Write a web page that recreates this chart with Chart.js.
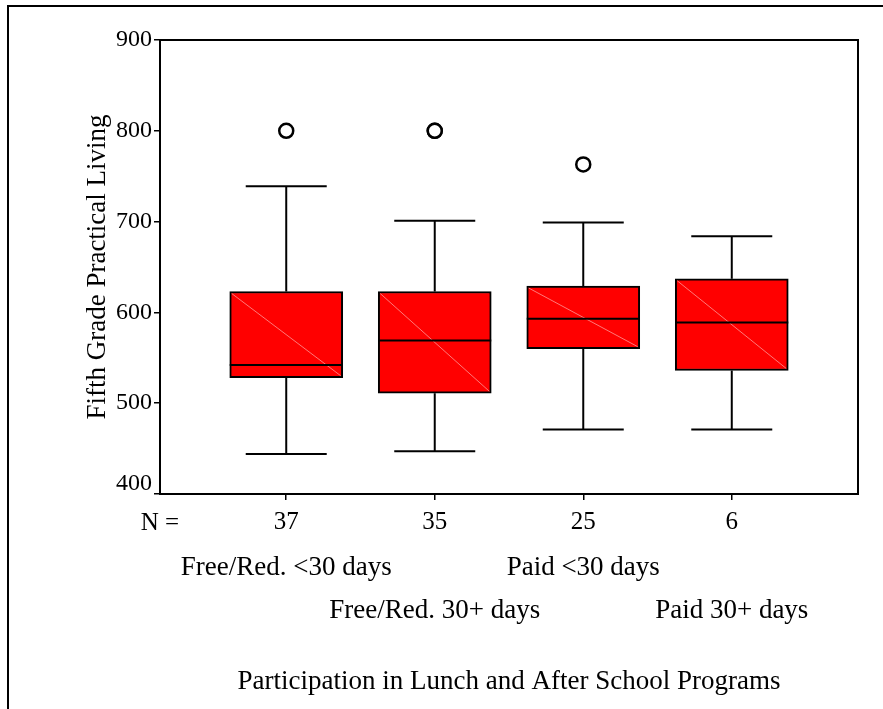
<!DOCTYPE html>
<html>
<head>
<meta charset="utf-8">
<script src="https://cdn.jsdelivr.net/npm/chart.js@4.4.0/dist/chart.umd.min.js"></script>
<style>
  html, body { margin: 0; padding: 0; background: #fff; }
  #wrap { position: relative; width: 883px; height: 709px; }
  #frame { position: absolute; left: 7px; top: 5px; right: 0; bottom: 0;
           border-top: 2px solid #000; border-left: 2px solid #000; pointer-events: none; }
</style>
</head>
<body>
<div id="wrap">
  <canvas id="myChart" width="883" height="709"></canvas>
  <div id="frame"></div>
</div>
<script>
// values
var groups = ['Free/Red. <30 days', 'Free/Red. 30+ days', 'Paid <30 days', 'Paid 30+ days'];
var nCounts = ['37', '35', '25', '6'];
var whiskerLow = [444, 447, 471, 471];
var q1 = [528, 511, 560, 536];
var medians = [542, 569, 593, 589];
var q3 = [623, 623, 629, 637];
var whiskerHigh = [739, 701, 699, 684];
var outliers = [[800], [800, 800], [763], []];
var yTicks = [400, 500, 600, 700, 800, 900];

var serif = "'Liberation Serif', 'Times New Roman', serif";
var boxWidth = 113, capWidth = 81;

var boxData = groups.map(function (g, i) {
    return { x: i + 1, y: [q1[i], q3[i]] };
});
var outlierData = [];
outliers.forEach(function (arr, i) {
    arr.forEach(function (v) { outlierData.push({ x: i + 1, y: v }); });
});

function line(ctx, x1, y1, x2, y2) {
    ctx.beginPath();
    ctx.moveTo(x1, y1);
    ctx.lineTo(x2, y2);
    ctx.stroke();
}

// whiskers behind the boxes, medians and labels on top
var boxPlotExtras = {
    id: 'boxPlotExtras',
    beforeDatasetsDraw: function (chart) {
        var ctx = chart.ctx, xs = chart.scales.x, ys = chart.scales.y;
        ctx.save();
        ctx.strokeStyle = '#000';
        ctx.lineWidth = 2;
        for (var i = 0; i < groups.length; i++) {
            var x = xs.getPixelForValue(i + 1);
            var lo = ys.getPixelForValue(whiskerLow[i]), hi = ys.getPixelForValue(whiskerHigh[i]);
            line(ctx, x, ys.getPixelForValue(q1[i]), x, lo);
            line(ctx, x, ys.getPixelForValue(q3[i]), x, hi);
            line(ctx, x - capWidth / 2, lo, x + capWidth / 2, lo);
            line(ctx, x - capWidth / 2, hi, x + capWidth / 2, hi);
        }
        ctx.restore();
    },
    afterDatasetsDraw: function (chart) {
        var ctx = chart.ctx, xs = chart.scales.x, ys = chart.scales.y;
        ctx.save();
        for (var i = 0; i < groups.length; i++) {
            var x = xs.getPixelForValue(i + 1);
            var top = ys.getPixelForValue(q3[i]), bot = ys.getPixelForValue(q1[i]);
            ctx.strokeStyle = 'rgba(255,150,150,0.8)';
            ctx.lineWidth = 1;
            line(ctx, x - boxWidth / 2 + 2, top + 2, x + boxWidth / 2 - 2, bot - 2);
            ctx.strokeStyle = '#000';
            ctx.lineWidth = 2;
            var m = ys.getPixelForValue(medians[i]);
            line(ctx, x - boxWidth / 2, m, x + boxWidth / 2, m);
        }
        ctx.restore();
    },
    afterDraw: function (chart) {
        var ctx = chart.ctx, xs = chart.scales.x, ys = chart.scales.y, a = chart.chartArea;
        ctx.save();
        ctx.strokeStyle = '#000';
        ctx.lineWidth = 2;
        ctx.strokeRect(a.left, a.top, a.right - a.left, a.bottom - a.top);
        ctx.fillStyle = '#000';
        // lowest y label sits a little above its tick, as in the original
        ctx.textAlign = 'right';
        ctx.textBaseline = 'middle';
        ctx.font = '24px ' + serif;
        ctx.fillText(String(yTicks[0]), a.left - 8, ys.getPixelForValue(yTicks[0]) - 10);
        ctx.textAlign = 'center';
        ctx.textBaseline = 'alphabetic';
        ctx.font = '25px ' + serif;
        ctx.fillText('N =', a.left, 530);
        ctx.font = '27px ' + serif;
        groups.forEach(function (g, i) {
            ctx.fillText(g, xs.getPixelForValue(i + 1), i % 2 === 0 ? 575 : 618);
        });
        ctx.restore();
    }
};

var config = {
    type: 'bar',
    data: {
        datasets: [{
            type: 'scatter',
            data: outlierData,
            pointStyle: 'circle',
            pointRadius: 7,
            pointBorderWidth: 2.5,
            pointBorderColor: '#000',
            pointBackgroundColor: '#fff',
            order: 0
        }, {
            data: boxData,
            backgroundColor: '#ff0000',
            borderColor: '#000',
            borderWidth: 2,
            borderSkipped: false,
            barThickness: boxWidth,
            order: 1
        }]
    },
    options: {
        responsive: false,
        animation: false,
        layout: { padding: { left: 0, top: 40, right: 25, bottom: 0 } },
        plugins: { legend: { display: false }, tooltip: { enabled: false } },
        scales: {
            x: {
                type: 'linear',
                min: 0.15,
                max: 4.85,
                offset: false,
                afterBuildTicks: function (scale) {
                    scale.ticks = nCounts.map(function (n, i) { return { value: i + 1 }; });
                },
                afterFit: function (scale) { scale.height = 215; },
                ticks: {
                    color: '#000',
                    padding: 7,
                    font: { family: serif, size: 25 },
                    maxRotation: 0,
                    autoSkip: false,
                    callback: function (v) { return nCounts[v - 1]; }
                },
                grid: { drawOnChartArea: false, offset: false, tickLength: 6, color: '#000', lineWidth: 1.5 },
                border: { display: true, color: '#000', width: 2 },
                title: {
                    display: true,
                    text: 'Participation in Lunch and After School Programs',
                    color: '#000',
                    font: { family: serif, size: 27 },
                    padding: { top: 0, bottom: 11 }
                }
            },
            y: {
                min: 400,
                max: 900,
                afterBuildTicks: function (scale) {
                    scale.ticks = yTicks.map(function (v) { return { value: v }; });
                },
                afterFit: function (scale) { scale.width = 160; },
                ticks: {
                    color: function (c) { return c.tick && c.tick.value === yTicks[0] ? 'rgba(0,0,0,0)' : '#000'; },
                    padding: 2,
                    font: { family: serif, size: 24 }
                },
                grid: { drawOnChartArea: false, tickLength: 6, color: '#000', lineWidth: 1.5 },
                border: { display: true, color: '#000', width: 2 },
                title: {
                    display: true,
                    text: 'Fifth Grade Practical Living',
                    color: '#000',
                    font: { family: serif, size: 27 },
                    padding: { top: 82, bottom: 0 }
                }
            }
        }
    },
    plugins: [boxPlotExtras]
};

var myChart = new Chart(document.getElementById('myChart'), config);
</script>
</body>
</html>
